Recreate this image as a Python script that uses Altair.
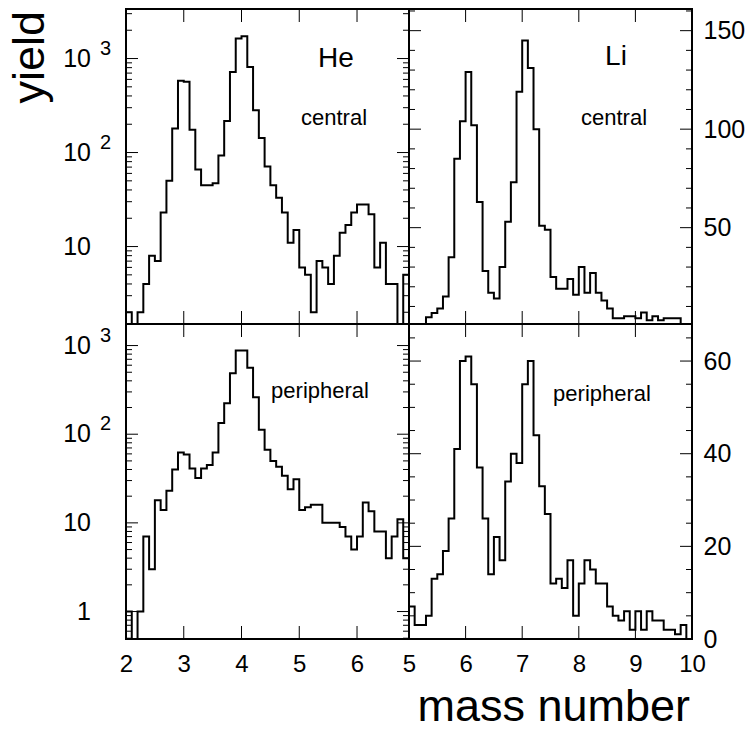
import altair as alt
import pandas as pd

# ---------------- data ----------------
# bin width 0.1 mass units
he_start = 2.0
li_start = 5.0
he_central = [2, 0, 2, 4, 8, 7, 23, 50, 180, 580, 565, 175, 66, 45, 45, 47, 93, 216,
              720, 1630, 1730, 815, 281, 143, 71, 45, 33, 23, 11, 15, 6, 5, 2, 7, 6,
              4, 8, 14, 17, 23, 28, 28, 22, 6, 11, 4, 4, 0, 5]
he_peripheral = [1, 0, 1, 7, 3, 18, 14, 23, 40, 62, 59, 41, 32, 41, 45, 62, 134, 224,
                 487, 880, 880, 560, 261, 112, 67, 50, 43, 34, 24, 31, 14, 15, 16, 16,
                 10, 10, 10, 9, 7, 5, 7, 17, 13.5, 8, 8, 4, 7, 11, 4]
li_central = [0, 0, 0, 4.5, 6.7, 9, 15, 35, 85, 104, 129, 102, 63, 28, 17, 14, 30, 53,
              73, 119, 145, 131, 100, 51, 49, 25, 19, 19, 24, 16, 30, 17, 27, 17, 13,
              9, 4, 4, 5, 5, 4, 7, 3, 5, 3, 4, 4, 4, 0, 0]
li_peripheral = [7, 3, 3, 5, 13, 14, 19, 26, 41, 60, 61, 55, 37, 26, 14, 22, 17, 34,
                 40, 38, 55, 60, 44, 33, 27, 12, 13, 11, 17, 5, 12, 17, 15, 12, 12, 7,
                 5, 4, 6, 2, 6, 2, 6, 4, 4, 2, 2, 1, 3, 0]

he_xdomain = [2.0, 6.9]
li_xdomain = [5.0, 10.0]
he_c_ydomain = [1.5, 3365]
he_p_ydomain = [0.49, 1750]
li_c_ydomain = [1.1, 161]
li_p_ydomain = [0, 68]

he_xticks = [3, 4, 5, 6]
li_xticks = [6, 7, 8, 9]
he_xlabels = [2, 3, 4, 5, 6]
li_xlabels = [5, 6, 7, 8, 9, 10]

log_major = [1, 10, 100, 1000]
log_minor = [m * 10 ** k for k in (-1, 0, 1, 2, 3) for m in range(2, 10)]
li_c_major = [50, 100, 150]
li_c_minor = [10, 20, 30, 40, 60, 70, 80, 90, 110, 120, 130, 140, 160]
li_p_major = [20, 40, 60]
li_p_minor = [5, 10, 15, 25, 30, 35, 45, 50, 55, 65]
li_c_labels = [50, 100, 150]
li_p_labels = [0, 20, 40, 60]

he_c_labels_val = [1000, 100, 10]
he_c_labels_base = ["10", "10", "10"]
he_c_labels_exp = ["3", "2", ""]
he_p_labels_val = [1000, 100, 10, 1]
he_p_labels_base = ["10", "10", "10", "1"]
he_p_labels_exp = ["3", "2", "", ""]

# ---------------- layout / style ----------------
W, H = 283, 315
FONT = "Liberation Sans"
TICK_FS = 25
XLAB_FS = 24
MAJ, MIN, XT = 12, 6, 13


def inside(vals, dom):
    return [v for v in vals if dom[0] < v < dom[1]]


def hist_df(start, values, floor):
    xs = [round(start + 0.1 * i, 2) for i in range(len(values) + 1)]
    ys = [max(v, floor) for v in values] + [max(values[-1], floor)]
    return pd.DataFrame({"x": xs, "y": ys})


def panel(values, start, xdom, ydom, log, ymaj, ymin, xticks,
          xlabels=None, ylabels_right=None, left_labels=None, texts=()):
    xscale = alt.Scale(domain=xdom, nice=False, zero=False)
    if log:
        yscale = alt.Scale(type="log", domain=ydom, nice=False)
    else:
        yscale = alt.Scale(domain=ydom, nice=False, zero=False)

    if xlabels is not None:
        xaxis = alt.Axis(values=xlabels, ticks=False, domain=False, grid=False,
                         labelFontSize=XLAB_FS, labelFont=FONT, labelColor="black",
                         labelPadding=13, labelFlush=False, labelOverlap=False,
                         format="d", title=None)
    else:
        xaxis = None
    if ylabels_right is not None:
        yaxis = alt.Axis(orient="right", values=ylabels_right, ticks=False,
                         domain=False, grid=False, labelFontSize=TICK_FS,
                         labelFont=FONT, labelColor="black", labelPadding=11,
                         labelFlush=False, labelOverlap=False, title=None)
    else:
        yaxis = None

    def X(f):
        return alt.X(f, scale=xscale, axis=xaxis)

    def Y(f):
        return alt.Y(f, scale=yscale, axis=yaxis)

    layers = []
    layers.append(
        alt.Chart(hist_df(start, values, ydom[0] * 0.01 if log else -10))
        .mark_line(interpolate="step-after", color="black", strokeWidth=2, clip=True)
        .encode(x=X("x:Q"), y=Y("y:Q"))
    )
    # y ticks on both vertical edges
    for vals, ln in ((inside(ymaj, ydom), MAJ), (inside(ymin, ydom), MIN)):
        df = pd.DataFrame({"v": vals})
        for xa, xb in ((0, ln), (W, W - ln)):
            layers.append(
                alt.Chart(df).mark_rule(color="black", strokeWidth=1)
                .encode(y=Y("v:Q"), x=alt.value(xa), x2=alt.value(xb))
            )
    # x ticks on both horizontal edges
    dfx = pd.DataFrame({"v": xticks})
    for ya, yb in ((0, XT), (H, H - XT)):
        layers.append(
            alt.Chart(dfx).mark_rule(color="black", strokeWidth=1)
            .encode(x=X("v:Q"), y=alt.value(ya), y2=alt.value(yb))
        )
    # log-axis labels 10^n built from base + exponent
    if left_labels is not None:
        vals, bases, exps = left_labels
        df = pd.DataFrame({"v": vals, "base": bases, "exp": exps})
        layers.append(
            alt.Chart(df).mark_text(align="right", baseline="middle", font=FONT,
                                    fontSize=TICK_FS, color="black")
            .encode(y=Y("v:Q"), x=alt.value(-35), text="base:N")
        )
        layers.append(
            alt.Chart(df).mark_text(align="left", baseline="middle", font=FONT,
                                    fontSize=20, color="black", dy=-10)
            .encode(y=Y("v:Q"), x=alt.value(-26), text="exp:N")
        )
    for t in texts:
        txt, px, py, fs, extra = t
        layers.append(
            alt.Chart(pd.DataFrame({"t": [txt]}))
            .mark_text(font=FONT, fontSize=fs, color="black", **extra)
            .encode(text="t:N", x=alt.value(px), y=alt.value(py))
        )
    return alt.layer(*layers).properties(width=W, height=H)


center = {"align": "center", "baseline": "middle"}

tl = panel(he_central, he_start, he_xdomain, he_c_ydomain, True, log_major, log_minor,
           he_xticks, left_labels=(he_c_labels_val, he_c_labels_base, he_c_labels_exp),
           texts=[("He", 210, 50, 28, center), ("central", 208, 109, 22, center),
                  ("yield", -118, 2, 45, {"align": "right", "baseline": "top", "angle": 270})])
tr = panel(li_central, li_start, li_xdomain, li_c_ydomain, False, li_c_major, li_c_minor,
           li_xticks, ylabels_right=li_c_labels,
           texts=[("Li", 207, 48, 28, center), ("central", 205, 109, 22, center)])
bl = panel(he_peripheral, he_start, he_xdomain, he_p_ydomain, True, log_major, log_minor,
           he_xticks, xlabels=he_xlabels,
           left_labels=(he_p_labels_val, he_p_labels_base, he_p_labels_exp),
           texts=[("peripheral", 194, 67, 22, center)])
br = panel(li_peripheral, li_start, li_xdomain, li_p_ydomain, False, li_p_major, li_p_minor,
           li_xticks, xlabels=li_xlabels, ylabels_right=li_p_labels,
           texts=[("peripheral", 193, 70, 22, center),
                  ("mass number", 281, 397, 45, {"align": "right", "baseline": "alphabetic"})])

chart = (
    alt.concat(tl, tr, bl, br, columns=2, spacing=0, bounds="flush")
    .properties(padding={"left": 7, "top": 7, "right": 5, "bottom": 5},
                background="white")
    .configure_view(stroke="black", strokeWidth=2)
)

chart.save("out.html", embed_options={"renderer": "svg", "actions": False})
